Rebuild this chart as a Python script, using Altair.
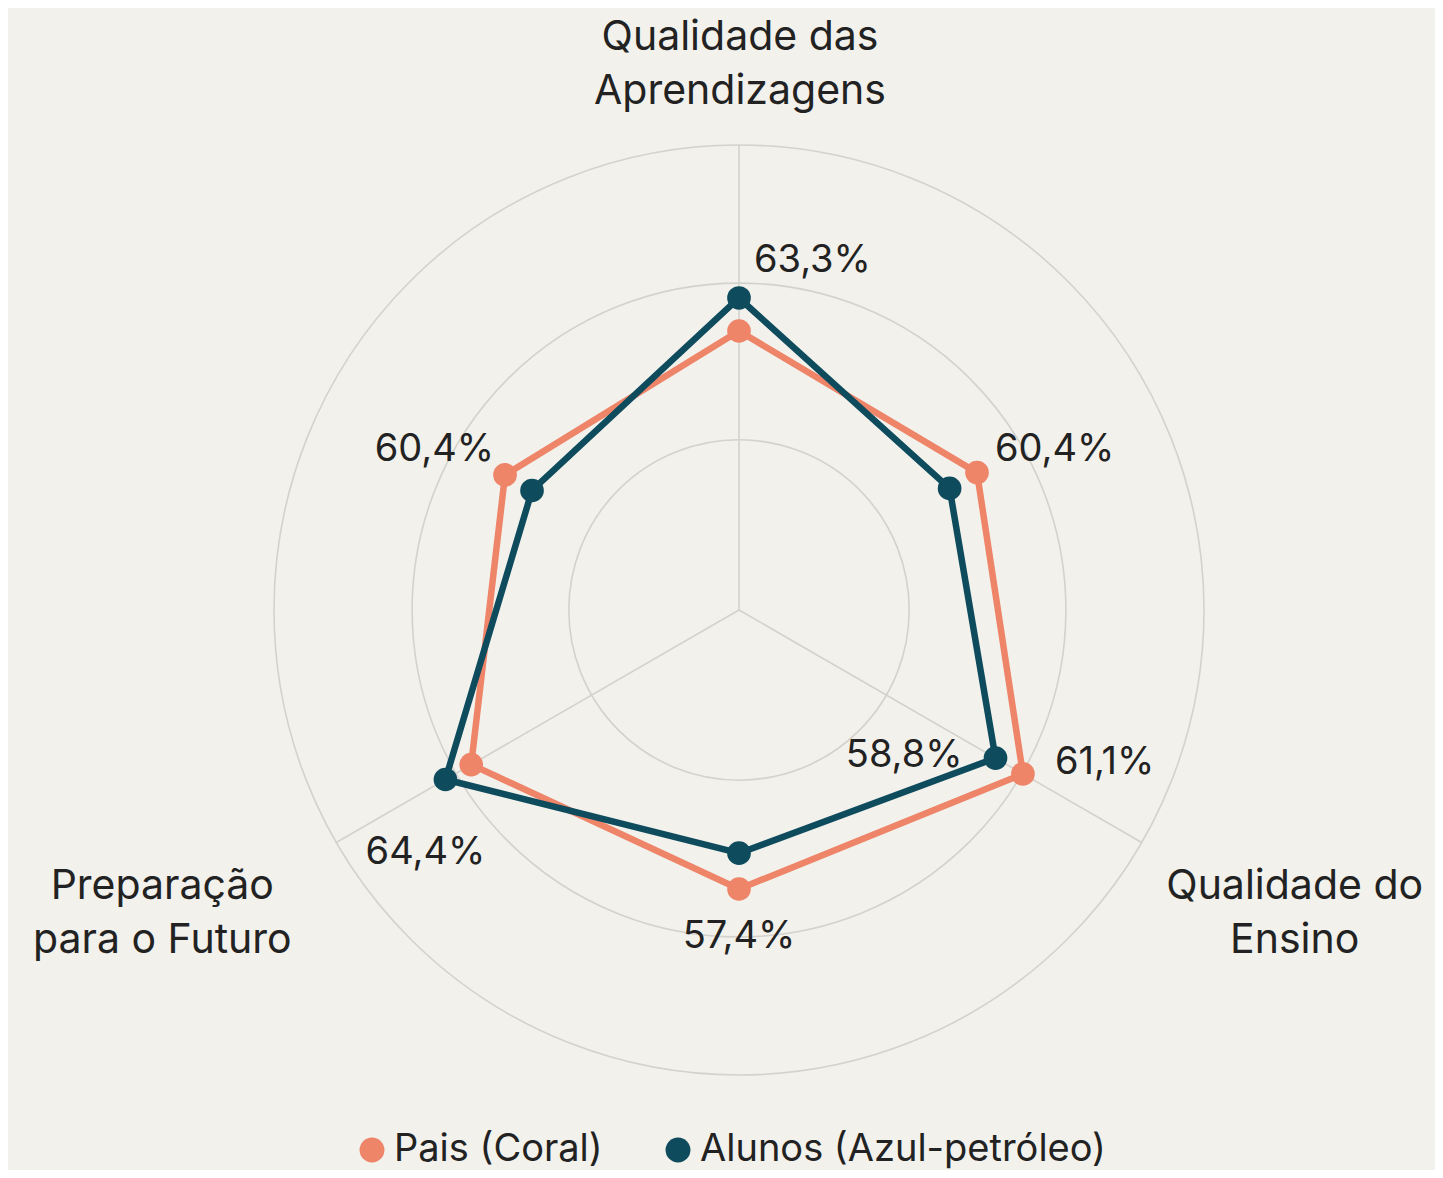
import altair as alt
import pandas as pd

# ---------------- data ----------------
series = ["Pais (Coral)", "Alunos (Azul-petróleo)"]
series_colors = ["#ee8468", "#0e4b5d"]
angles_deg = [90, 30, -30, -90, -150, 150]          # direction of each of the 6 points
pais_values = [60.0, 59.1, 70.5, 60.0, 66.5, 58.1]   # radial index (outer ring = 100)
alunos_values = [67.1, 52.3, 63.7, 52.3, 72.9, 51.4]
ring_levels = [36.6, 70.3, 100.0]
spoke_angles = [90, -30, 210]
axis_titles = ["Qualidade das\nAprendizagens", "Qualidade do\nEnsino", "Preparação\npara o Futuro"]
label_texts = ["63,3%", "60,4%", "61,1%", "58,8%", "57,4%", "64,4%", "60,4%"]
label_series = [1, 0, 0, 1, 0, 1, 0]
label_point = [0, 1, 2, 2, 3, 4, 5]

# ---------------- styles / layout ----------------
W, H = 1427, 1162
CX, CY, R = 731, 602, 465
FONT = "Inter"
TEXT_COLOR = "#222222"
GRID_COLOR = "#d3d2cd"
BG = "#f2f1ec"
label_style = [  # align, dx, dy
    ("left", 15, -37),
    ("left", 18, -23),
    ("left", 32, -11),
    ("right", -33, -2),
    ("center", 0, 48),
    ("center", -20, 74),
    ("right", -11, -25),
]
title_style = [  # dx, dy from outer end of spoke (first line)
    (1, -107),
    (153, 44),
    (-174, 44),
]

# ---------------- tables ----------------
rows = []
for s, vals in zip(series, [pais_values, alunos_values]):
    for i, (a, v) in enumerate(zip(angles_deg, vals)):
        rows.append({"series": s, "idx": i, "angle": a, "r": v})
pts = pd.DataFrame(rows)

rings_df = pd.DataFrame({"level": ring_levels})
spokes_df = pd.DataFrame({"angle": spoke_angles})
titles_df = pd.DataFrame({"angle": spoke_angles, "title": axis_titles})
labels_df = pd.DataFrame({
    "text": label_texts,
    "series": [series[k] for k in label_series],
    "angle": [angles_deg[k] for k in label_point],
    "r": [(pais_values if s == 0 else alunos_values)[k] for s, k in zip(label_series, label_point)],
})

xs = alt.Scale(domain=[-100, 100], range=[CX - R, CX + R])
ys = alt.Scale(domain=[-100, 100], range=[CY + R, CY - R])
color_scale = alt.Scale(domain=series, range=series_colors)

def polar(chart, rfield="r"):
    return chart.transform_calculate(
        px=f"datum.{rfield} * cos(datum.angle * PI / 180)",
        py=f"datum.{rfield} * sin(datum.angle * PI / 180)",
    )

X = alt.X("px:Q", scale=xs, axis=None)
Y = alt.Y("py:Q", scale=ys, axis=None)

rings = alt.Chart(rings_df).mark_arc(
    theta=0, theta2=6.2832, filled=False, stroke=GRID_COLOR, strokeWidth=1.6
).encode(
    radius=alt.Radius("level:Q", stack=None,
                      scale=alt.Scale(type="linear", domain=[0, 100], range=[0, R], zero=True)),
    x=alt.value(CX),
    y=alt.value(CY),
)

spokes = alt.Chart(spokes_df).mark_rule(color=GRID_COLOR, strokeWidth=1.6).transform_calculate(
    x0="0", y0="0",
    x1="100 * cos(datum.angle * PI / 180)",
    y1="100 * sin(datum.angle * PI / 180)",
).encode(
    x=alt.X("x0:Q", scale=xs, axis=None),
    y=alt.Y("y0:Q", scale=ys, axis=None),
    x2="x1:Q",
    y2="y1:Q",
)

layers = [rings, spokes]

for s in series:
    layers.append(
        polar(alt.Chart(pts).transform_filter(alt.datum.series == s)).mark_line(
            interpolate="linear-closed", strokeWidth=6.5, strokeJoin="round"
        ).encode(
            x=X, y=Y, order="idx:Q",
            color=alt.Color("series:N", scale=color_scale),
        )
    )

for s in series:
    layers.append(
        polar(alt.Chart(pts).transform_filter(alt.datum.series == s)).mark_point(
            filled=True, size=560, opacity=1, strokeWidth=0
        ).encode(
            x=X, y=Y,
            color=alt.Color("series:N", scale=color_scale),
        )
    )

for k, (align, dx, dy) in enumerate(label_style):
    layers.append(
        polar(alt.Chart(labels_df.iloc[[k]])).mark_text(
            align=align, baseline="middle", dx=dx, dy=dy, font=FONT, fontSize=38, color=TEXT_COLOR
        ).encode(x=X, y=Y, text="text:N")
    )

for k, (dx, dy) in enumerate(title_style):
    layers.append(
        polar(alt.Chart(titles_df.iloc[[k]]).transform_calculate(r="100")).mark_text(
            align="center", baseline="middle", dx=dx, dy=dy, font=FONT, fontSize=41,
            lineBreak="\n", lineHeight=54, color=TEXT_COLOR
        ).encode(x=X, y=Y, text="title:N")
    )

chart = alt.layer(*layers).properties(
    width=W, height=H, padding=0, autosize="none", background=BG
).configure_view(stroke=None).configure_legend(
    title=None, orient="none", legendX=345, legendY=1123, direction="horizontal",
    symbolType="circle", symbolSize=620, symbolStrokeWidth=0, labelFont=FONT,
    labelFontSize=38, labelColor=TEXT_COLOR, labelLimit=900, columnPadding=56,
    labelOffset=3,
)

chart.save("out.html", embed_options={"renderer": "svg", "actions": False})
